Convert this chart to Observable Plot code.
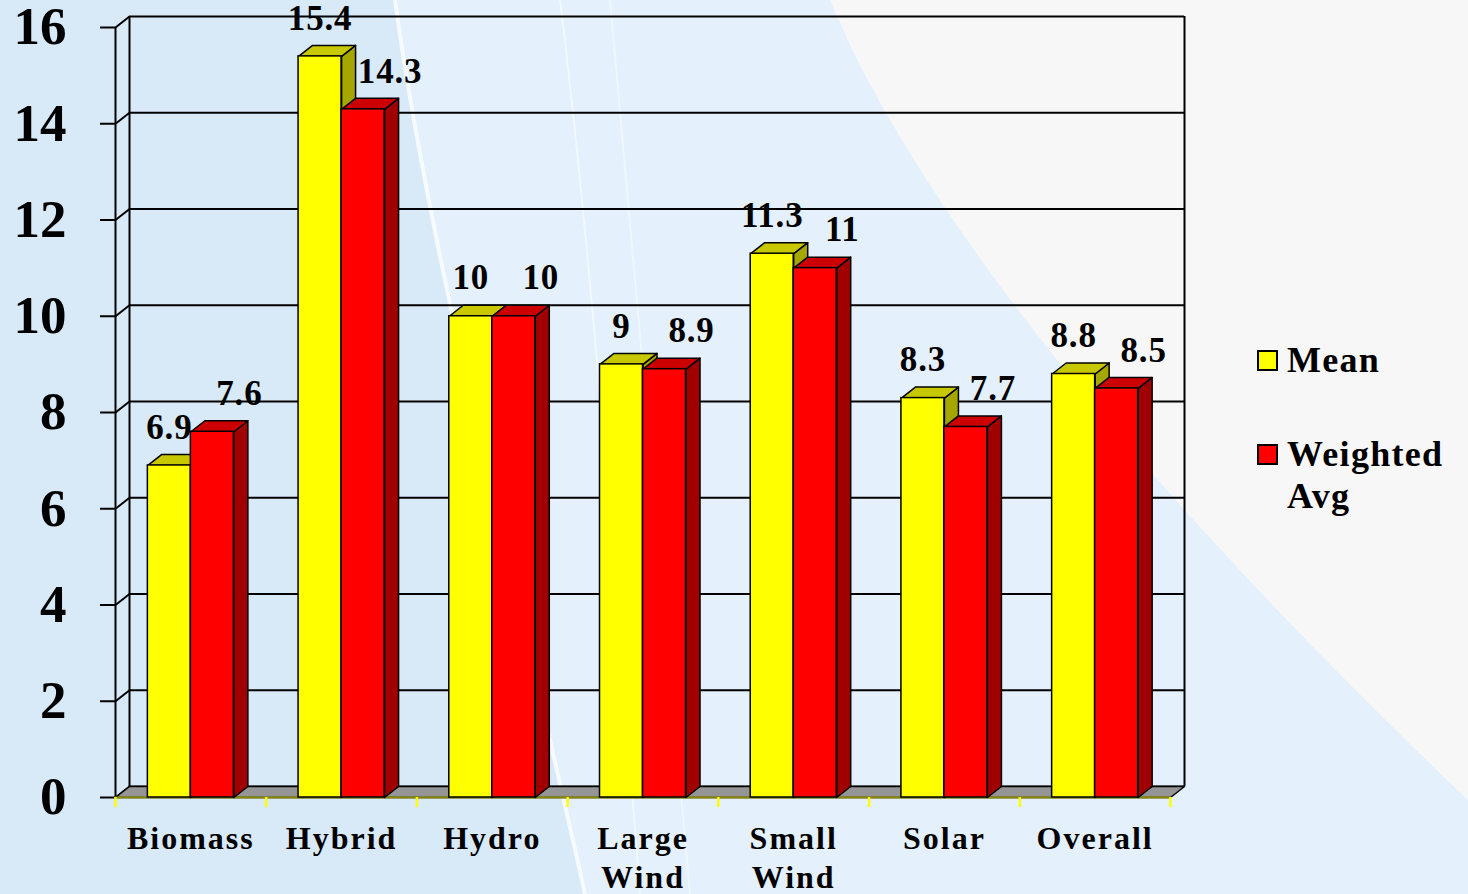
<!DOCTYPE html>
<html>
<head>
<meta charset="utf-8">
<script src="https://cdn.jsdelivr.net/npm/d3@7"></script>
<script src="https://cdn.jsdelivr.net/npm/@observablehq/plot@0.6"></script>
<style>
  html, body { margin: 0; padding: 0; width: 1468px; height: 894px; overflow: hidden; }
  body { position: relative; background: #d8e9f8; font-family: "Liberation Serif", serif; }
  #bg { position: absolute; left: 0; top: 0; }
  #chart { position: absolute; left: 0; top: 0; }
  #chart svg { background: transparent !important; }
  #chart svg g[font-size="32"] { letter-spacing: 2px; }
  #chart svg g[font-size="35"] { letter-spacing: 0.8px; }
  #legend { position: absolute; left: 1257px; top: 339px; font-family: "Liberation Serif", serif; font-weight: bold; font-size: 36px; color: #000; }
  .item { position: absolute; left: 0; white-space: nowrap; line-height: 42px; }
  .sw { position: absolute; left: 0; width: 17px; height: 17px; border: 2px solid #000; }
  .lbl { position: absolute; left: 30px; letter-spacing: 1.3px; }
</style>
</head>
<body>
<svg id="bg" width="1468" height="894" viewBox="0 0 1468 894">
  <rect x="0" y="0" width="1468" height="894" fill="#d8e9f8"/>
  <path d="M395,0 C430,260 520,600 585,894 L1468,894 L1468,0 Z" fill="#e4f0fb"/>
  <path d="M830,0 C900,170 1080,430 1468,800 L1468,0 Z" fill="#f7f7f7"/>
  <path d="M395,0 C430,260 520,600 585,894" fill="none" stroke="#ffffff" stroke-width="4" opacity="0.75"/>
  <path d="M560,0 C585,200 610,500 640,894" fill="none" stroke="#ffffff" stroke-width="2" opacity="0.5"/>
  <path d="M610,0 C630,200 655,500 690,894" fill="none" stroke="#ffffff" stroke-width="2" opacity="0.4"/>
</svg>
<div id="chart"></div>
<div id="legend">
  <div class="item" style="top:0px"><div class="sw" style="top:11px;background:#ffff00"></div><span class="lbl">Mean</span></div>
  <div class="item" style="top:94px"><div class="sw" style="top:11px;background:#ff0000"></div><span class="lbl">Weighted<br>Avg</span></div>
</div>
<script>
// ---- data ----
const categories = ["Biomass", "Hybrid", "Hydro", "Large\nWind", "Small\nWind", "Solar", "Overall"];
const meanValues = [6.9, 15.4, 10, 9, 11.3, 8.3, 8.8];
const weightedValues = [7.6, 14.3, 10, 8.9, 11, 7.7, 8.5];
const seriesNames = ["Mean", "Weighted Avg"];
const yTicks = [0, 2, 4, 6, 8, 10, 12, 14, 16];

// ---- layout ----
const W = 1468, H = 894;
const mL = 115, mR = 298, mT = 27, mB = 97;
const n = categories.length;
const pxPerCat = (W - mL - mR) / n;
const pxPerUnit = (H - mT - mB) / 16;
const depthX = 14 / pxPerCat;    // depth offset in x-data units
const depthY = 11 / pxPerUnit;   // depth offset in y-data units
const barW = 43 / pxPerCat;

const styles = [
  {front: "#ffff00", top: "#c8c800", side: "#a6a600", values: meanValues, labelDx: 0},
  {front: "#ff0000", top: "#cc0000", side: "#a00000", values: weightedValues, labelDx: 27}
];

const marks = [];

// back wall gridlines
marks.push(Plot.ruleY(yTicks, {y: d => d + depthY, x1: depthX, x2: n + depthX, stroke: "#000", strokeWidth: 2}));
// left side wall diagonals
marks.push(Plot.link(yTicks, {x1: 0, y1: d => d, x2: depthX, y2: d => d + depthY, stroke: "#000", strokeWidth: 2}));
// back wall verticals
marks.push(Plot.ruleX([depthX, n + depthX], {y1: depthY, y2: 16 + depthY, stroke: "#000", strokeWidth: 2}));
// front axis line
marks.push(Plot.ruleX([0], {y1: 0, y2: 16, stroke: "#000", strokeWidth: 2}));
// tick marks
marks.push(Plot.ruleY(yTicks, {x1: -15 / pxPerCat, x2: 0, stroke: "#000", strokeWidth: 2}));

// floor
const floorPts = [[0, 0], [n, 0], [n + depthX, depthY], [depthX, depthY], [0, 0]].map(([x, y]) => ({x, y}));
marks.push(Plot.line(floorPts, {x: "x", y: "y", fill: "#959595", stroke: "#000", strokeWidth: 1.5, curve: "linear"}));
marks.push(Plot.ruleY([0], {x1: 0, x2: n, stroke: "#8a8a00", strokeWidth: 2}));
// yellow category ticks under the floor
marks.push(Plot.ruleX(d3.range(n + 1), {y1: 0, y2: -10 / pxPerUnit, stroke: "#ffff00", strokeWidth: 2.5}));

// bars
styles.forEach((s, si) => {
  const rows = categories.map((c, i) => {
    const x1 = si === 0 ? i + 0.5 - barW : i + 0.5;
    return {i, c, v: s.values[i], x1, x2: x1 + barW};
  });
  const sidePts = [], topPts = [];
  rows.forEach(r => {
    [[r.x2, 0], [r.x2, r.v], [r.x2 + depthX, r.v + depthY], [r.x2 + depthX, depthY], [r.x2, 0]]
      .forEach(([x, y]) => sidePts.push({id: r.i, x, y}));
    [[r.x1, r.v], [r.x2, r.v], [r.x2 + depthX, r.v + depthY], [r.x1 + depthX, r.v + depthY], [r.x1, r.v]]
      .forEach(([x, y]) => topPts.push({id: r.i, x, y}));
  });
  marks.push(Plot.line(sidePts, {x: "x", y: "y", z: "id", fill: s.side, stroke: "#000", strokeWidth: 1.5, curve: "linear"}));
  marks.push(Plot.line(topPts, {x: "x", y: "y", z: "id", fill: s.top, stroke: "#000", strokeWidth: 1.5, curve: "linear"}));
  marks.push(Plot.rect(rows, {x1: "x1", x2: "x2", y1: 0, y2: "v", fill: s.front, stroke: "#000", strokeWidth: 1.5}));
  rows.forEach(r => r.lx = (r.x1 + r.x2) / 2);
  marks.push(Plot.text(rows, {x: "lx", y: "v", text: d => String(d.v), dx: s.labelDx, dy: -38,
    fontSize: 35, fontWeight: "bold", fontFamily: "Liberation Serif", fill: "#000"}));
});

// y tick labels
marks.push(Plot.text(yTicks, {x: 0, y: d => d, text: d => String(d), dx: -49, textAnchor: "end",
  fontSize: 53, fontWeight: "bold", fontFamily: "Liberation Serif", fill: "#000"}));
// x category labels
marks.push(Plot.text(categories, {x: (d, i) => i + 0.5, y: 0, text: d => d, dy: 24, lineAnchor: "top", lineHeight: 1.22,
  fontSize: 32, fontWeight: "bold", fontFamily: "Liberation Serif", fill: "#000"}));

const chart = Plot.plot({
  width: W, height: H,
  marginLeft: mL, marginRight: mR, marginTop: mT, marginBottom: mB,
  x: {domain: [0, n], axis: null},
  y: {domain: [0, 16], axis: null},
  style: {background: "transparent", overflow: "visible"},
  marks
});
document.getElementById("chart").appendChild(chart);
</script>
</body>
</html>
